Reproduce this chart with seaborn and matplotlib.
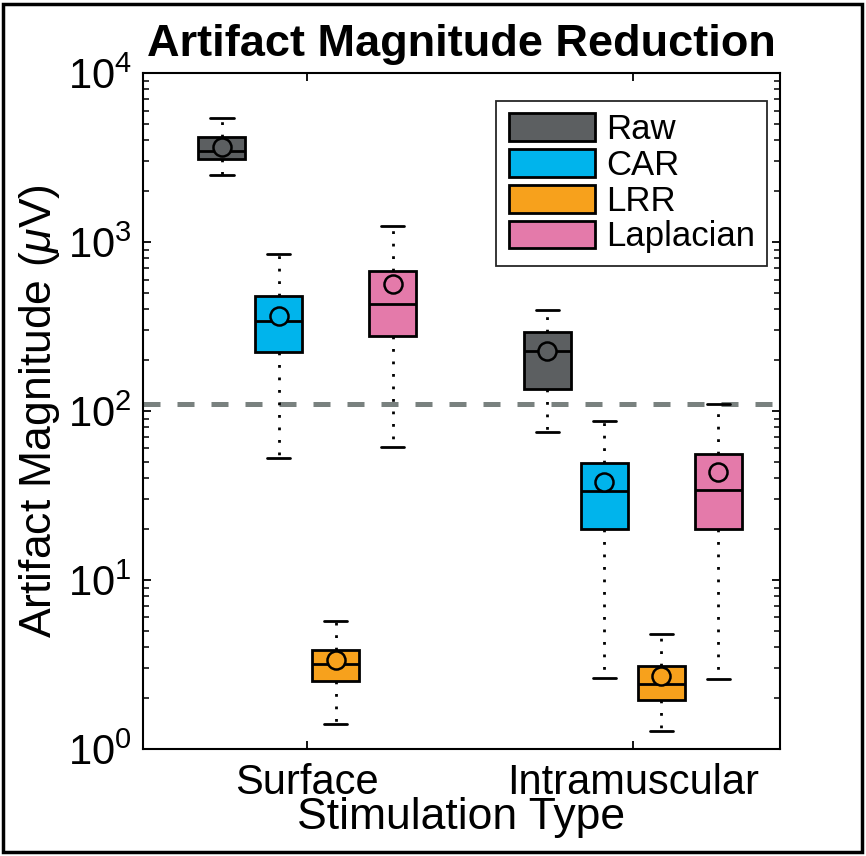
import numpy as np
import pandas as pd
import seaborn as sns
import matplotlib.pyplot as plt
from matplotlib.patches import Rectangle
from matplotlib.ticker import LogLocator

# summary values, order: Surface (Raw, CAR, LRR, Laplacian), Intramuscular (...)
stim_types = ['Surface', 'Intramuscular']
methods = ['Raw', 'CAR', 'LRR', 'Laplacian']
whisker_low = [2490, 53, 1.41, 61, 75, 2.63, 1.28, 2.6]
q1 = [3100, 223, 2.52, 278, 135, 20, 1.95, 20]
median = [3450, 341, 3.18, 430, 226, 33.6, 2.43, 34]
q3 = [4180, 479, 3.85, 673, 293, 49, 3.10, 56]
whisker_high = [5420, 849, 5.72, 1244, 396, 87, 4.79, 110]
means = [3650, 365, 3.36, 564, 226, 38, 2.70, 43.5]
threshold = 110

colors = ['#5c5f61', '#00b4ec', '#f7a11c', '#e47aaa']

rows = []
mean_rows = []
k = 0
for s in stim_types:
    for m in methods:
        for v in [whisker_low[k], q1[k], median[k], q3[k], whisker_high[k]]:
            rows.append({'Stimulation': s, 'Method': m, 'Value': v})
        mean_rows.append({'Stimulation': s, 'Method': m, 'Value': means[k]})
        k += 1
df = pd.DataFrame(rows)
df_mean = pd.DataFrame(mean_rows)

sns.set_style('ticks')
plt.rcParams['font.family'] = ['Liberation Sans', 'DejaVu Sans']
plt.rcParams['mathtext.fontset'] = 'custom'
plt.rcParams['mathtext.rm'] = 'Liberation Sans'
plt.rcParams['mathtext.it'] = 'Liberation Sans:italic'
for key in ['text.color', 'axes.labelcolor', 'xtick.color', 'ytick.color', 'axes.edgecolor']:
    plt.rcParams[key] = 'black'

fig = plt.figure(figsize=(8.66, 8.56), dpi=100)
ax = fig.add_axes([0.165, 0.125, 0.7357, 0.7897])

sns.boxplot(data=df, x='Stimulation', y='Value', hue='Method', order=stim_types,
            hue_order=methods, palette=colors, saturation=1, width=0.7, gap=0.18,
            whis=(0, 100), log_scale=True, linecolor='black', linewidth=2.0,
            whiskerprops={'linestyle': (0, (1, 3.5)), 'linewidth': 2.0},
            capprops={'linewidth': 2.0}, medianprops={'linewidth': 2.0},
            ax=ax)

sns.pointplot(data=df_mean, x='Stimulation', y='Value', hue='Method', order=stim_types,
              hue_order=methods, palette=colors, dodge=0.525, linestyle='none',
              markers='o', errorbar=None, legend=False, markersize=13,
              markeredgecolor='black', markeredgewidth=1.8, zorder=3, ax=ax)

ax.axhline(threshold, color='#79817f', linestyle=(0, (3.4, 3.4)), linewidth=3.6, zorder=1)

ax.set_ylim(1, 1e4)
ax.set_xlim(-0.505, 1.452)
ax.tick_params(which='both', direction='in', left=True, bottom=True, top=True, right=True)
ax.tick_params(which='major', length=6, width=1.3, labelsize=30, pad=8)
ax.tick_params(which='minor', length=4, width=1.1)
ax.tick_params(axis='x', pad=10)
for sp in ax.spines.values():
    sp.set_linewidth(1.5)

ax.set_xlabel('Stimulation Type', fontsize=32, labelpad=-4)
ax.set_ylabel(r'Artifact Magnitude ($\mathit{\mu}$V)', fontsize=32, labelpad=4)
ax.set_title('Artifact Magnitude Reduction', fontsize=32.5, fontweight='bold', pad=12)

sns.move_legend(ax, 'upper right', bbox_to_anchor=(0.9796, 0.9586), title=None,
                frameon=True, fancybox=False, edgecolor='#262626', framealpha=1,
                fontsize=25, handlelength=2.5, handleheight=0.85, labelspacing=0.08,
                handletextpad=0.3, borderpad=0.35, borderaxespad=0)
ax.get_legend().get_frame().set_linewidth(1.3)

fig.patches.append(Rectangle((0.004, 0.005), 0.991, 0.99, transform=fig.transFigure,
                             fill=False, edgecolor='black', linewidth=2.5))

fig.savefig('out.png', dpi=100)
